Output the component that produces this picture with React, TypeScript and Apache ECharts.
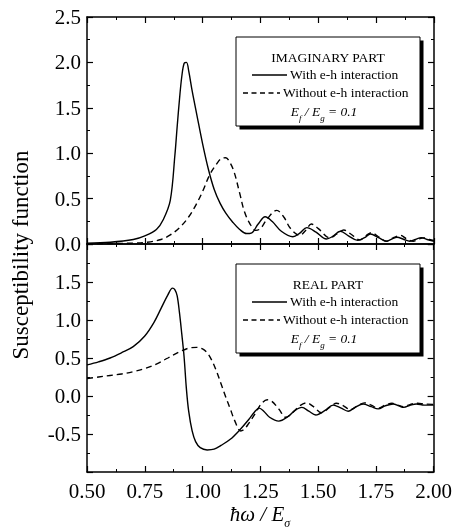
import React, { useEffect, useRef } from "react";
import * as echarts from "echarts";

// x ticks / ranges
const xMin = 0.5;
const xMax = 2.0;
const xInterval = 0.25;

// Imaginary part, with e-h interaction
const imagWithX = [0.5, 0.6, 0.7, 0.75, 0.8, 0.83, 0.86, 0.88, 0.89, 0.9, 0.91, 0.92, 0.93, 0.94, 0.955, 0.975, 1.0, 1.025, 1.05, 1.075, 1.1, 1.13, 1.16, 1.19, 1.21, 1.24, 1.27, 1.3, 1.34, 1.39, 1.42, 1.45, 1.49, 1.535, 1.56, 1.595, 1.63, 1.67, 1.7, 1.725, 1.76, 1.795, 1.815, 1.84, 1.87, 1.895, 1.92, 1.945, 1.97, 2.0];
const imagWithY = [0.01, 0.02, 0.05, 0.09, 0.16, 0.27, 0.48, 0.98, 1.3, 1.6, 1.85, 1.99, 2.0, 1.9, 1.68, 1.42, 1.1, 0.82, 0.6, 0.45, 0.34, 0.24, 0.16, 0.115, 0.12, 0.22, 0.3, 0.25, 0.14, 0.08, 0.12, 0.18, 0.13, 0.055, 0.08, 0.14, 0.09, 0.04, 0.07, 0.11, 0.07, 0.03, 0.05, 0.075, 0.05, 0.03, 0.05, 0.07, 0.05, 0.03];

// Imaginary part, without e-h interaction
const imagWithoutX = [0.5, 0.6, 0.7, 0.76, 0.82, 0.86, 0.9, 0.94, 0.975, 1.0, 1.03, 1.06, 1.08, 1.1, 1.115, 1.135, 1.16, 1.18, 1.205, 1.23, 1.25, 1.28, 1.32, 1.35, 1.38, 1.42, 1.445, 1.47, 1.5, 1.55, 1.58, 1.61, 1.64, 1.68, 1.705, 1.73, 1.76, 1.795, 1.825, 1.855, 1.88, 1.91, 1.935, 1.955, 1.98, 2.0];
const imagWithoutY = [0.0, 0.005, 0.01, 0.02, 0.05, 0.1, 0.18, 0.3, 0.45, 0.58, 0.76, 0.88, 0.94, 0.95, 0.91, 0.8, 0.56, 0.36, 0.22, 0.15, 0.17, 0.28, 0.37, 0.3, 0.17, 0.095, 0.15, 0.22, 0.17, 0.068, 0.11, 0.155, 0.11, 0.045, 0.09, 0.125, 0.08, 0.03, 0.07, 0.095, 0.06, 0.03, 0.055, 0.068, 0.05, 0.04];

// Real part, with e-h interaction
const realWithX = [0.5, 0.55, 0.6, 0.65, 0.7, 0.75, 0.79, 0.82, 0.85, 0.87, 0.88, 0.89, 0.9, 0.91, 0.92, 0.93, 0.94, 0.955, 0.97, 0.99, 1.02, 1.05, 1.08, 1.12, 1.16, 1.2, 1.225, 1.245, 1.265, 1.29, 1.33, 1.37, 1.4, 1.43, 1.46, 1.49, 1.53, 1.565, 1.6, 1.63, 1.66, 1.695, 1.73, 1.76, 1.79, 1.825, 1.85, 1.87, 1.9, 1.925, 1.96, 2.0];
const realWithY = [0.41, 0.45, 0.5, 0.57, 0.65, 0.79, 0.97, 1.15, 1.33, 1.42, 1.4, 1.32, 1.1, 0.82, 0.52, 0.1, -0.2, -0.46, -0.6, -0.68, -0.71, -0.7, -0.65, -0.57, -0.45, -0.31, -0.21, -0.16, -0.2, -0.28, -0.33, -0.27, -0.19, -0.15, -0.2, -0.25, -0.19, -0.12, -0.16, -0.2, -0.15, -0.105, -0.14, -0.17, -0.13, -0.105, -0.13, -0.15, -0.12, -0.105, -0.12, -0.12];

// Real part, without e-h interaction
const realWithoutX = [0.5, 0.55, 0.6, 0.65, 0.7, 0.75, 0.8, 0.85, 0.9, 0.94, 0.975, 1.0, 1.02, 1.04, 1.06, 1.08, 1.1, 1.12, 1.14, 1.165, 1.18, 1.2, 1.23, 1.255, 1.28, 1.3, 1.33, 1.36, 1.39, 1.42, 1.45, 1.48, 1.515, 1.55, 1.58, 1.61, 1.64, 1.67, 1.7, 1.73, 1.76, 1.79, 1.82, 1.845, 1.87, 1.9, 1.93, 1.96, 2.0];
const realWithoutY = [0.23, 0.25, 0.27, 0.29, 0.32, 0.36, 0.42, 0.5, 0.58, 0.63, 0.64, 0.62, 0.57, 0.47, 0.33, 0.16, -0.01, -0.17, -0.33, -0.46, -0.44, -0.36, -0.22, -0.1, -0.05, -0.07, -0.17, -0.28, -0.22, -0.13, -0.09, -0.14, -0.22, -0.15, -0.095, -0.13, -0.18, -0.13, -0.09, -0.12, -0.16, -0.12, -0.095, -0.12, -0.14, -0.11, -0.095, -0.105, -0.11];

const topYMin = 0;
const topYMax = 2.5;
const botYMin = -1.0;
const botYMax = 2.0;
const yInterval = 0.5;

const FONT = "'Liberation Serif', 'Times New Roman', serif";

const zip = (xs: number[], ys: number[]) => xs.map((x, i) => [x, ys[i]]);

export default function App() {
  const ref = useRef<HTMLDivElement>(null);
  useEffect(() => {
    if (!ref.current) return;
    const chart = echarts.init(ref.current, undefined, { renderer: "svg" });
    const axisLine = { show: true, onZero: false, lineStyle: { color: "#000", width: 1.5 } };
    const axisTick = { show: true, inside: true, length: 6, lineStyle: { color: "#000", width: 1.2 } };
    const minorTick = { show: true, splitNumber: 2, length: 3, lineStyle: { color: "#000", width: 1 } };
    const label = { fontFamily: FONT, fontSize: 21, color: "#000" };
    const mkX = (grid: number, pos: string, showLabel: boolean) => ({
      type: "value", gridIndex: grid, position: pos, min: xMin, max: xMax, interval: xInterval,
      axisLine, axisTick, minorTick, splitLine: { show: false },
      axisLabel: { show: showLabel, ...label, margin: 8, formatter: (v: number) => v.toFixed(2) },
    });
    const mkY = (grid: number, pos: string, showLabel: boolean, min: number, max: number, hideEnds: boolean) => ({
      type: "value", gridIndex: grid, position: pos, min, max, interval: yInterval,
      axisLine, axisTick, minorTick, splitLine: { show: false },
      axisLabel: {
        show: showLabel, ...label, margin: 6,
        showMinLabel: !hideEnds, showMaxLabel: true,
        formatter: (v: number) => (hideEnds && (v >= max - 1e-9 || v <= min + 1e-9) ? "" : v.toFixed(1)),
      },
    });
    const lineSolid = { color: "#000", width: 1.4 };
    const lineDash = { color: "#000", width: 1.4, type: [6, 4] };
    const serie = (xi: number, yi: number, xs: number[], ys: number[], dashed: boolean) => ({
      type: "line", xAxisIndex: xi, yAxisIndex: yi, data: zip(xs, ys), showSymbol: false,
      smooth: 0.35, lineStyle: dashed ? lineDash : lineSolid, silent: true,
    });

    const txt = (x: number, y: number, text: string, align = "left", extra: any = {}) => ({
      type: "text", x, y, style: { text, fontFamily: FONT, fontSize: 13.5, fill: "#000", align, verticalAlign: "middle", ...extra },
    });
    const ratioText = (x: number, y: number) => ({
      type: "text", x, y,
      style: {
        text: "{i|E}{s|f}{i| / E}{s|g}{i| = 0.1}",
        align: "center", verticalAlign: "middle", fill: "#000",
        rich: {
          i: { fontFamily: FONT, fontStyle: "italic", fontSize: 13.5, lineHeight: 16, verticalAlign: "top" },
          s: { fontFamily: FONT, fontStyle: "italic", fontSize: 9, lineHeight: 10, padding: [9, 0, 0, 0], verticalAlign: "top" },
        },
      },
    });
    const box = (x: number, y: number, w: number, h: number, title: string) => [
      { type: "rect", shape: { x: x + 3.5, y: y + 3.5, width: w, height: h }, style: { fill: "#000" } },
      { type: "rect", shape: { x, y, width: w, height: h }, style: { fill: "#fff", stroke: "#000", lineWidth: 1 } },
      txt(x + 92, y + 20, title, "center"),
      { type: "line", shape: { x1: x + 16, y1: y + 38, x2: x + 51, y2: y + 38 }, style: { stroke: "#000", lineWidth: 1.3 } },
      txt(x + 54, y + 37.5, "With e-h interaction"),
      { type: "line", shape: { x1: x + 7, y1: y + 56, x2: x + 44, y2: y + 56 }, style: { stroke: "#000", lineWidth: 1.3, lineDash: [5, 3.5] } },
      txt(x + 47, y + 55.5, "Without e-h interaction"),
      ratioText(x + 88, y + 75),
    ];

    chart.setOption({
      animation: false,
      grid: [
        { left: 87, top: 17, width: 347, height: 227 },
        { left: 87, top: 244, width: 347, height: 228 },
      ],
      xAxis: [mkX(0, "bottom", false), mkX(0, "top", false), mkX(1, "bottom", true), mkX(1, "top", false)],
      yAxis: [
        mkY(0, "left", true, topYMin, topYMax, false),
        mkY(0, "right", false, topYMin, topYMax, false),
        mkY(1, "left", true, botYMin, botYMax, true),
        mkY(1, "right", false, botYMin, botYMax, true),
      ],
      series: [
        serie(0, 0, imagWithX, imagWithY, false),
        serie(0, 0, imagWithoutX, imagWithoutY, true),
        serie(2, 2, realWithX, realWithY, false),
        serie(2, 2, realWithoutX, realWithoutY, true),
      ],
      graphic: [
        ...box(236, 37, 184, 89, "IMAGINARY PART"),
        ...box(236, 264, 184, 89, "REAL PART"),
        {
          type: "text", x: 20, y: 255, rotation: Math.PI / 2,
          style: { text: "Susceptibility function", fontFamily: FONT, fontSize: 23, fill: "#000", align: "center", verticalAlign: "middle" },
        },
        {
          type: "text", x: 260, y: 514,
          style: {
            text: "{i|ħω / E}{s|σ}", align: "center", verticalAlign: "middle", fill: "#000",
            rich: {
              i: { fontFamily: FONT, fontStyle: "italic", fontSize: 21, lineHeight: 22, verticalAlign: "top" },
              s: { fontFamily: FONT, fontStyle: "italic", fontSize: 12, lineHeight: 12, padding: [14, 0, 0, 0], verticalAlign: "top" },
            },
          },
        },
      ],
    });
    return () => chart.dispose();
  }, []);
  return <div ref={ref} style={{ position: "fixed", left: 0, top: 0, width: 455, height: 529 }} />;
}
